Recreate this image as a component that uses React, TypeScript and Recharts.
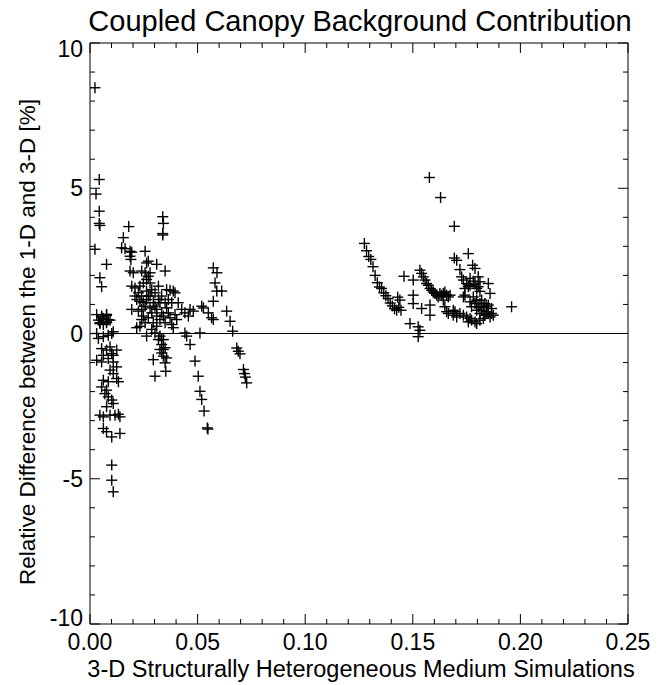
import { ScatterChart, Scatter, XAxis, YAxis, ReferenceLine } from "recharts";

const FONT = '"Liberation Sans", Arial, Helvetica, sans-serif';

const chartTitle = "Coupled Canopy Background Contribution";
const xTitle = "3-D Structurally Heterogeneous Medium Simulations";
const yTitle = "Relative Difference between the 1-D and 3-D [%]";

// tick values (labels only on the multiples of the major step)
const xTicks = Array.from({ length: 26 }, (_, i) => i / 100);
const yTicks = Array.from({ length: 21 }, (_, i) => i - 10);
const xMajorStep = 0.05;
const yMajorStep = 5;

// thin cluster hugging the y axis
const nearCluster: [number, number][] = [
  [0.0023, 8.46], [0.0043, 5.3], [0.0028, 4.8], [0.0043, 4.21], [0.0043, 3.79], [0.0046, 3.72],
  [0.0023, 2.9], [0.0077, 2.38], [0.0046, 1.92], [0.0054, 1.61],
  [0.0031, 0.65], [0.0054, 0.6], [0.0077, 0.62], [0.0085, 0.48], [0.0046, 0.37], [0.0062, 0.31],
  [0.0077, 0.37], [0.0054, 0.57], [0.0077, 0.66], [0.0062, 0.52], [0.0039, 0.46], [0.0046, 0.34],
  [0.0077, 0.4], [0.0093, 0.46], [0.0031, 0.0], [0.0039, -0.17], [0.0062, -0.11], [0.0085, -0.06],
  [0.0101, 0.0], [0.0108, 0.06], [0.0054, -0.52], [0.0077, -0.57], [0.0093, -0.46], [0.0101, -0.69],
  [0.0108, -0.75], [0.0124, -0.57], [0.0062, -0.75], [0.0031, -0.92], [0.0054, -0.98], [0.0085, -0.86],
  [0.0108, -0.98], [0.0124, -1.15], [0.0093, -1.26], [0.0108, -1.38], [0.0124, -1.55], [0.0132, -1.66],
  [0.0062, -1.61], [0.0085, -1.66], [0.0054, -1.84], [0.0077, -1.95], [0.0069, -2.07], [0.0085, -2.18],
  [0.0101, -2.29], [0.0108, -2.41], [0.0077, -2.52], [0.0046, -2.81], [0.0062, -2.87], [0.0093, -2.81],
  [0.0116, -2.81], [0.0139, -2.87], [0.0132, -2.78], [0.0062, -3.27], [0.0077, -3.38], [0.0101, -3.56],
  [0.0139, -3.44], [0.0101, -4.53], [0.0101, -5.05], [0.0108, -5.45],
];

// main group between 0.015 and 0.075
const midCluster: [number, number][] = [
  [0.0155, 3.3], [0.0338, 3.44], [0.018, 3.68], [0.0338, 4.02], [0.0341, 3.79], [0.0338, 3.39],
  [0.0147, 2.95], [0.0163, 2.92], [0.0186, 2.83], [0.0194, 2.8], [0.0256, 2.83],
  [0.0186, 2.66], [0.019, 2.55], [0.0271, 2.49], [0.0263, 2.43], [0.031, 2.38],
  [0.0186, 2.15], [0.0201, 2.09], [0.024, 2.15], [0.0256, 2.09], [0.0279, 2.09], [0.0271, 1.97],
  [0.0349, 2.15], [0.0194, 1.63], [0.0209, 1.57], [0.0209, 1.29], [0.0217, 1.17], [0.0232, 1.11],
  [0.0356, 1.51], [0.0372, 1.49], [0.0387, 1.46], [0.0395, 1.4], [0.0279, 1.74], [0.0263, 1.86],
  [0.0287, 1.51], [0.0194, 0.83], [0.0225, 0.77], [0.024, 0.83], [0.0217, 0.2], [0.0232, 0.25],
  [0.0263, -0.09], [0.031, 0.6], [0.0325, 0.48], [0.031, 0.25], [0.0325, -0.09], [0.0333, -0.21],
  [0.0333, -0.38], [0.0341, -0.55], [0.0341, -0.78], [0.0349, -1.01], [0.0352, -1.3],
  [0.0294, -0.9], [0.0302, -1.47],
  [0.041, 1.06], [0.0426, 0.83], [0.0441, 0.71], [0.0457, 0.6], [0.0465, 0.83], [0.048, 0.77],
  [0.0441, 0.02], [0.0449, -0.09], [0.0465, -0.38],
  [0.0488, -0.95], [0.0503, -1.47], [0.0511, -1.99], [0.0519, -2.27], [0.053, -2.67],
  [0.0545, -3.25], [0.0548, -3.29],
  [0.0519, 0.94], [0.0527, 0.88], [0.055, 0.71], [0.0565, 0.54], [0.0573, 0.48], [0.0511, 0.02],
  [0.0573, 2.26], [0.059, 2.09], [0.0581, 1.74], [0.0589, 1.46], [0.0612, 1.46], [0.0573, 1.11],
  [0.0635, 0.77], [0.0651, 0.42], [0.0663, 0.08],
  [0.0682, -0.5], [0.0689, -0.61], [0.0697, -0.7],
  [0.0713, -1.24], [0.0718, -1.38], [0.0722, -1.5], [0.0728, -1.7],
  [0.0225, 1.4], [0.024, 1.29], [0.0248, 1.06], [0.0256, 0.94], [0.0263, 1.17], [0.0271, 1.29],
  [0.0279, 0.88], [0.0287, 0.71], [0.0294, 1.06], [0.0302, 0.94], [0.031, 0.83], [0.0318, 1.17],
  [0.0325, 1.06], [0.0333, 0.71], [0.0341, 0.6], [0.0349, 0.37], [0.0356, 0.88], [0.0364, 0.71],
  [0.0372, 0.54], [0.038, 0.31], [0.0387, 0.2], [0.0395, 0.65], [0.0403, 0.48], [0.0294, 0.37],
  [0.0287, 0.14], [0.0302, 0.02], [0.0318, -0.21], [0.0325, -0.55], [0.0333, -0.67], [0.0341, -0.21],
  [0.0349, -0.49], [0.0356, -0.84], [0.0271, 0.54], [0.0256, 0.37], [0.0248, 0.6], [0.024, 0.48],
  [0.0232, 1.63], [0.0248, 1.74], [0.0263, 1.46], [0.0279, 1.29], [0.0302, 1.4], [0.0318, 1.63],
  [0.0333, 1.29], [0.0349, 1.06], [0.0364, 1.17], [0.038, 1.06],
];

// group on the right, 0.127 - 0.196
const farCluster: [number, number][] = [
  [0.1275, 3.1], [0.1285, 2.85], [0.1295, 2.65], [0.1305, 2.55], [0.1315, 2.3], [0.1325, 2.0],
  [0.1335, 1.75], [0.1345, 1.6], [0.1355, 1.55], [0.1365, 1.4], [0.1375, 1.3], [0.1385, 1.2],
  [0.1395, 1.05], [0.1405, 0.95], [0.1415, 0.85], [0.1425, 0.8], [0.1435, 0.9], [0.1445, 0.8],
  [0.144, 1.15], [0.143, 1.25],
  [0.1459, 1.97], [0.1533, 2.18], [0.1541, 2.07], [0.1549, 1.95], [0.1557, 1.84], [0.1564, 1.72],
  [0.1572, 1.66], [0.158, 1.55], [0.1588, 1.49], [0.1595, 1.43], [0.1603, 1.38], [0.1611, 1.32],
  [0.1618, 1.26], [0.1626, 1.38], [0.1634, 1.32], [0.1642, 1.38], [0.1649, 1.43], [0.1657, 1.32],
  [0.1665, 1.26], [0.1673, 1.32], [0.1502, 1.84], [0.1502, 1.32], [0.1502, 1.03], [0.1541, 0.86],
  [0.158, 0.98], [0.158, 0.63], [0.1487, 0.34], [0.1525, 0.23], [0.1533, 0.11], [0.1525, -0.11],
  [0.1577, 5.37], [0.1629, 4.68], [0.1693, 3.69],
  [0.1693, 2.6], [0.1704, 2.52], [0.1758, 2.75], [0.1778, 2.35], [0.1789, 2.24], [0.1719, 2.2],
  [0.1727, 1.95], [0.1735, 1.84], [0.175, 1.72], [0.1758, 1.61], [0.1742, 1.55], [0.1766, 1.66],
  [0.1804, 1.95], [0.1812, 1.78], [0.1804, 1.61], [0.1851, 1.72], [0.1859, 1.38],
  [0.1781, 1.26], [0.1797, 1.15], [0.1812, 1.03], [0.1828, 0.92], [0.182, 0.8], [0.1843, 0.75],
  [0.1835, 0.63], [0.1851, 0.69], [0.1804, 0.92], [0.1812, 0.69], [0.1866, 0.69], [0.1874, 0.63],
  [0.1719, 0.69], [0.1735, 0.63], [0.175, 0.57], [0.1766, 0.52], [0.1773, 0.46], [0.1789, 0.4],
  [0.1797, 0.34], [0.1959, 0.92], [0.1742, 1.32], [0.1735, 1.26],
  [0.1657, 0.75], [0.1665, 0.69], [0.1649, 0.92], [0.1642, 1.15], [0.1688, 0.8],
  [0.1789, 1.03], [0.182, 1.15], [0.1835, 1.03], [0.1843, 0.92], [0.1828, 0.52], [0.1859, 0.57],
  [0.1797, 0.8], [0.1773, 0.92], [0.1766, 1.09], [0.1851, 0.98], [0.1866, 0.86], [0.1812, 0.46],
  [0.1758, 0.4], [0.1704, 0.57], [0.1696, 0.75], [0.1688, 0.63],
  [0.1766, 1.9], [0.1781, 1.8], [0.1789, 1.7], [0.1797, 1.55], [0.1812, 1.45],
];

const points = [...nearCluster, ...midCluster, ...farCluster].map(([x, y]) => ({ x, y }));

const isMajor = (v: number, step: number) => Math.abs(v / step - Math.round(v / step)) < 1e-6;

const PlusMark = (props: any) => {
  const { cx, cy } = props;
  if (cx == null || cy == null) return null;
  return (
    <g stroke="#000" strokeWidth={1.4}>
      <line x1={cx - 5.5} y1={cy} x2={cx + 5.5} y2={cy} />
      <line x1={cx} y1={cy - 5.5} x2={cx} y2={cy + 5.5} />
    </g>
  );
};

const BottomTick = ({ x, y, payload }: any) => {
  const major = isMajor(payload.value, xMajorStep);
  return (
    <g>
      <line x1={x} y1={y} x2={x} y2={y - (major ? 10 : 5)} stroke="#000" />
      {major && (
        <text x={x} y={y + 26} textAnchor="middle" fontSize={23} fontFamily={FONT} fill="#000">
          {payload.value.toFixed(2)}
        </text>
      )}
    </g>
  );
};

const TopTick = ({ x, y, payload }: any) => {
  const major = isMajor(payload.value, xMajorStep);
  return <line x1={x} y1={y} x2={x} y2={y + (major ? 10 : 5)} stroke="#000" />;
};

const LeftTick = ({ x, y, payload }: any) => {
  const v = payload.value;
  const major = isMajor(v, yMajorStep);
  // IDL nudges the end labels inward
  const shift = v === 10 ? 6 : v === -10 ? -6 : 0;
  return (
    <g>
      <line x1={x} y1={y} x2={x + (major ? 10 : 5)} y2={y} stroke="#000" />
      {major && (
        <text x={x - 7} y={y + 8 + shift} textAnchor="end" fontSize={23} fontFamily={FONT} fill="#000">
          {String(v)}
        </text>
      )}
    </g>
  );
};

const RightTick = ({ x, y, payload }: any) => {
  const major = isMajor(payload.value, yMajorStep);
  return <line x1={x} y1={y} x2={x - (major ? 10 : 5)} y2={y} stroke="#000" />;
};

export default function App() {
  return (
    <div style={{ position: "absolute", left: 0, top: 0, width: 666, height: 685, background: "#fff" }}>
      <ScatterChart width={666} height={685} margin={{ top: 33, right: 28, bottom: 41, left: 70 }}>
        <XAxis
          xAxisId="b"
          type="number"
          dataKey="x"
          domain={[0, 0.25]}
          ticks={xTicks}
          interval={0}
          height={20}
          tickSize={0}
          tickMargin={0}
          tickLine={false}
          axisLine={{ stroke: "#000" }}
          tick={<BottomTick />}
          allowDataOverflow
        />
        <XAxis
          xAxisId="t"
          orientation="top"
          type="number"
          dataKey="x"
          domain={[0, 0.25]}
          ticks={xTicks}
          interval={0}
          height={10}
          tickSize={0}
          tickMargin={0}
          tickLine={false}
          axisLine={{ stroke: "#000" }}
          tick={<TopTick />}
          allowDataOverflow
        />
        <YAxis
          yAxisId="l"
          type="number"
          dataKey="y"
          domain={[-10, 10]}
          ticks={yTicks}
          interval={0}
          width={20}
          tickSize={0}
          tickMargin={0}
          tickLine={false}
          axisLine={{ stroke: "#000" }}
          tick={<LeftTick />}
          allowDataOverflow
        />
        <YAxis
          yAxisId="r"
          orientation="right"
          type="number"
          dataKey="y"
          domain={[-10, 10]}
          ticks={yTicks}
          interval={0}
          width={10}
          tickSize={0}
          tickMargin={0}
          tickLine={false}
          axisLine={{ stroke: "#000" }}
          tick={<RightTick />}
          allowDataOverflow
        />
        <ReferenceLine xAxisId="b" yAxisId="l" y={0} stroke="#000" strokeWidth={1} />
        <Scatter xAxisId="b" yAxisId="l" data={points} shape={<PlusMark />} isAnimationActive={false} />
        <Scatter xAxisId="t" yAxisId="r" data={[]} shape={<PlusMark />} isAnimationActive={false} />
      </ScatterChart>
      <svg width={666} height={685} style={{ position: "absolute", left: 0, top: 0, pointerEvents: "none" }}>
        <text x={360} y={31} textAnchor="middle" fontSize={29} fontFamily={FONT} fill="#000">
          {chartTitle}
        </text>
        <text x={361} y={677} textAnchor="middle" fontSize={23.5} fontFamily={FONT} fill="#000">
          {xTitle}
        </text>
        <text transform="rotate(-90)" x={-342} y={35} textAnchor="middle" fontSize={22.5} fontFamily={FONT} fill="#000">
          {yTitle}
        </text>
      </svg>
    </div>
  );
}
